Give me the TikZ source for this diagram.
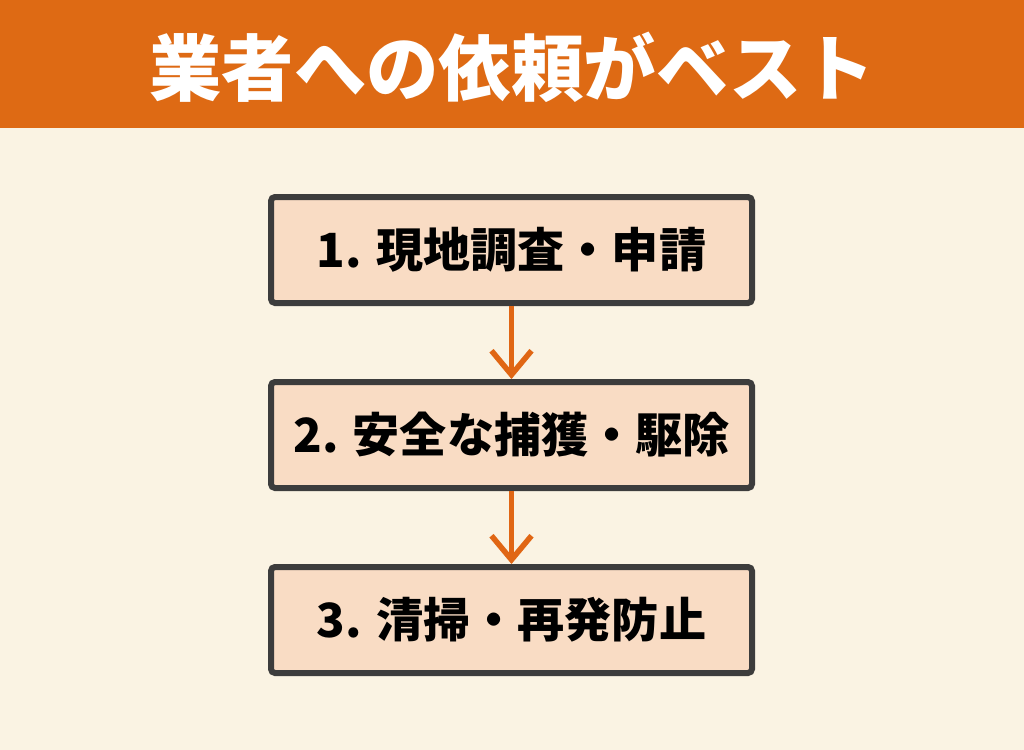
\documentclass[tikz,border=0pt]{standalone}
\usepackage{fontspec}
\usepackage{xcolor}
\usetikzlibrary{arrows.meta,positioning}
\newfontfamily\jpfont{Noto Sans CJK JP}
\definecolor{banner}{RGB}{222,106,20}
\definecolor{paper}{RGB}{250,243,227}
\definecolor{peach}{RGB}{249,220,196}
\definecolor{frame}{RGB}{60,60,60}
\definecolor{flow}{RGB}{224,102,20}

\begin{document}
\begin{tikzpicture}[
  stepbox/.style={draw=frame,line width=0.06cm,fill=peach,rounded corners=0.04cm,
    minimum width=4.81cm,minimum height=1.06cm,inner sep=0pt,
    font=\jpfont\bfseries\fontsize{13.4pt}{16pt}\selectfont,text=black},
  flowarrow/.style={-{Straight Barb[length=0.24cm,width=0.4cm,line width=0.055cm]},draw=flow,line width=0.055cm}
]
% background and banner
\fill[paper] (0,0) rectangle (10.24,-7.5);
\useasboundingbox (0,0) rectangle (10.24,-7.5);
\fill[banner] (0,0) rectangle (10.24,-1.28);
\node[font=\jpfont\bfseries\fontsize{20.6pt}{24pt}\selectfont,text=white] (title) at (5.12,-0.67) {業者への依頼がベスト};
% steps
\node[stepbox] (survey) at (5.115,-2.50) {1. 現地調査・申請};
\node[stepbox,below=0.73cm of survey] (capture) {2. 安全な捕獲・駆除};
\node[stepbox,below=0.73cm of capture] (cleanup) {3. 清掃・再発防止};
% arrows
\draw[flowarrow] (survey.south) -- (capture.north);
\draw[flowarrow] (capture.south) -- (cleanup.north);
\end{tikzpicture}
\end{document}
